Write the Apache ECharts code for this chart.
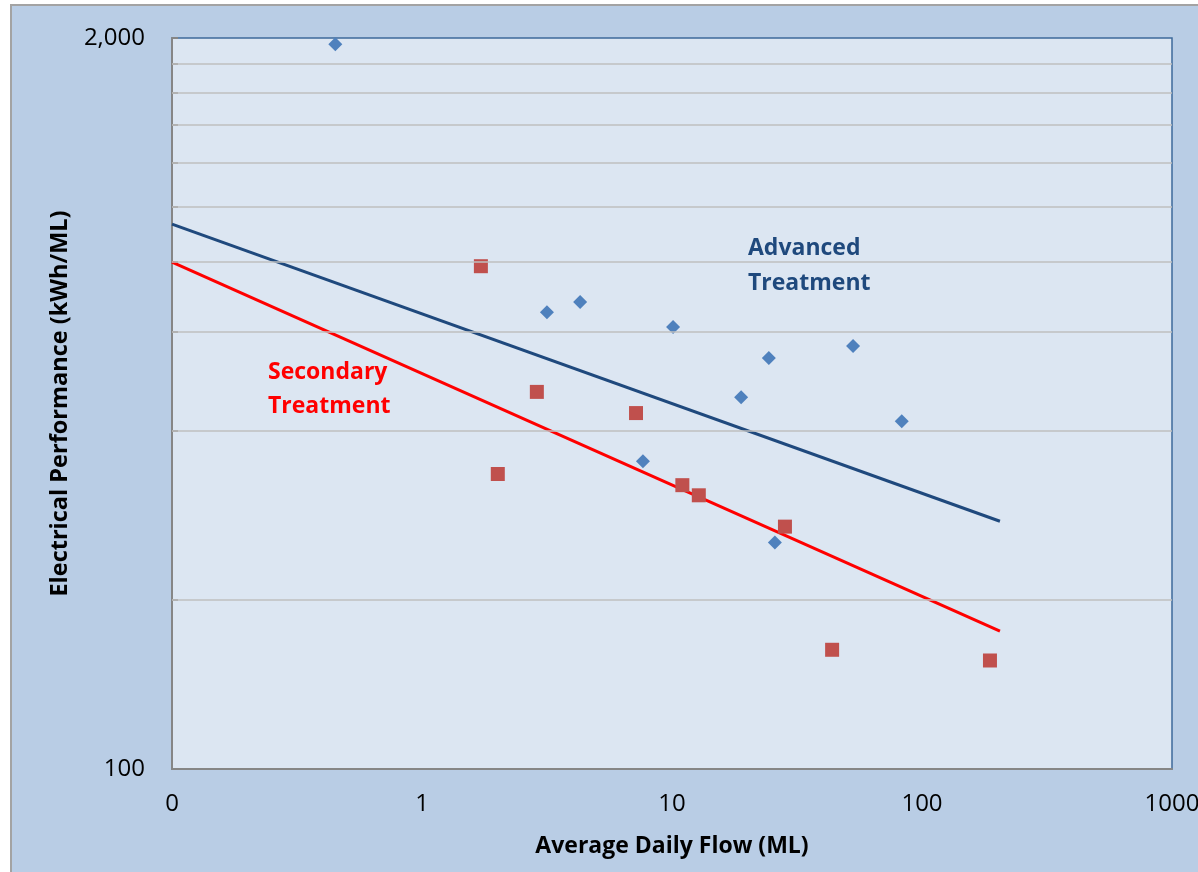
<!DOCTYPE html>
<html>
<head>
<meta charset="utf-8">
<script src="https://cdn.jsdelivr.net/npm/echarts@6/dist/echarts.min.js"></script>
<style>
  html, body { margin: 0; padding: 0; background: #fff; overflow: hidden; }
  #frame { position: absolute; left: 10px; top: 4px; width: 1200px; height: 900px;
           background: #B9CDE5; border: 2px solid #A3A3A3; }
  #main { position: absolute; left: 0; top: 0; width: 1198px; height: 872px; }
</style>
</head>
<body>
<div id="frame"></div>
<div id="main"></div>
<script>
// advanced treatment plants (blue diamonds)
var advFlow = [0.45, 3.16, 4.29, 10.1, 24.4, 53, 18.9, 83, 7.65, 25.8];
var advPerf = [1950, 650, 678, 612, 539, 566, 459, 416, 353, 253];
// secondary treatment plants (red squares)
var secFlow = [1.72, 2.88, 2.01, 7.18, 11.0, 12.8, 28.3, 43.7, 187];
var secPerf = [785, 469, 335, 430, 320, 307, 270, 163, 156];
// power-law trend lines, end points
var advTrendFlow = [0.1, 205];
var advTrendPerf = [933, 276];
var secTrendFlow = [0.1, 205];
var secTrendPerf = [798, 176];
// axis ticks
var xTicks = [0.1, 1, 10, 100, 1000];
var yLabels = [100, 2000];
var yGrid = [200, 400, 600, 800, 1000, 1200, 1400, 1600, 1800, 2000];

function pairs(xs, ys) {
  return xs.map(function(x, i) { return [x, ys[i]]; });
}

var font = "'Open Sans', 'DejaVu Sans', sans-serif";
var chart = echarts.init(document.getElementById('main'));

var option = {
  backgroundColor: 'transparent',
  animation: false,
  grid: {
    left: 172,
    top: 38,
    right: 26,
    bottom: 103,
    outerBoundsMode: 'none',
    containLabel: false,
    show: true,
    backgroundColor: '#DCE6F2',
    borderColor: '#3E6A9A',
    borderWidth: 1.5
  },
  xAxis: {
    type: 'log',
    logBase: 10,
    min: 0.1,
    max: 1000,
    name: 'Average Daily Flow (ML)',
    nameLocation: 'middle',
    nameGap: 66,
    nameTextStyle: { color: '#000', fontFamily: font, fontWeight: 'bold', fontSize: 23 },
    axisLine: { show: true, lineStyle: { color: '#868686', width: 2 } },
    axisTick: { show: false },
    splitLine: { show: false },
    minorSplitLine: { show: false },
    axisLabel: {
      customValues: xTicks,
      color: '#000',
      fontFamily: font,
      fontSize: 24,
      margin: 23,
      formatter: function(v) {
        return v < 1 ? '0' : String(Math.round(v));
      }
    }
  },
  yAxis: {
    type: 'log',
    logBase: 10,
    min: 100,
    max: 2000,
    name: 'Electrical Performance (kWh/ML)',
    nameLocation: 'middle',
    nameGap: 100,
    nameTextStyle: { color: '#000', fontFamily: font, fontWeight: 'bold', fontSize: 23.5 },
    axisLine: { show: true, lineStyle: { color: '#868686', width: 2 } },
    axisTick: {
      show: true,
      inside: true,
      length: 6,
      customValues: yGrid,
      lineStyle: { color: '#868686', width: 2 }
    },
    splitLine: { show: false },
    axisLabel: {
      customValues: yLabels,
      color: '#000',
      fontFamily: font,
      fontSize: 24,
      margin: 27,
      formatter: function(v) {
        return Math.round(v).toLocaleString('en-US');
      }
    }
  },
  graphic: [
    {
      type: 'text',
      left: 748,
      top: 231,
      z: 100,
      style: {
        text: 'Advanced\nTreatment',
        fill: '#1F497D',
        font: 'bold 23px ' + font,
        lineHeight: 35
      }
    },
    {
      type: 'text',
      left: 268,
      top: 355,
      z: 100,
      style: {
        text: 'Secondary\nTreatment',
        fill: '#FF0000',
        font: 'bold 23px ' + font,
        lineHeight: 34
      }
    }
  ],
  series: [
    {
      // horizontal gridlines
      type: 'line',
      data: [],
      z: 1,
      silent: true,
      markLine: {
        silent: true,
        symbol: 'none',
        label: { show: false },
        lineStyle: { color: '#BFBFBF', width: 1.5, type: 'solid' },
        data: yGrid.slice(0, -1).map(function(v) { return { yAxis: v }; })
      }
    },
    {
      name: 'Advanced trend',
      type: 'line',
      z: 3,
      symbol: 'none',
      lineStyle: { color: '#1F497D', width: 3 },
      data: pairs(advTrendFlow, advTrendPerf)
    },
    {
      name: 'Secondary trend',
      type: 'line',
      z: 3,
      symbol: 'none',
      lineStyle: { color: '#FF0000', width: 3 },
      data: pairs(secTrendFlow, secTrendPerf)
    },
    {
      name: 'Advanced',
      type: 'scatter',
      z: 4,
      symbol: 'diamond',
      symbolSize: 14,
      itemStyle: { color: '#4F81BD', opacity: 1 },
      data: pairs(advFlow, advPerf)
    },
    {
      name: 'Secondary',
      type: 'scatter',
      z: 4,
      symbol: 'rect',
      symbolSize: 14,
      itemStyle: { color: '#C0504D', opacity: 1 },
      data: pairs(secFlow, secPerf)
    }
  ]
};

chart.setOption(option);
</script>
</body>
</html>
